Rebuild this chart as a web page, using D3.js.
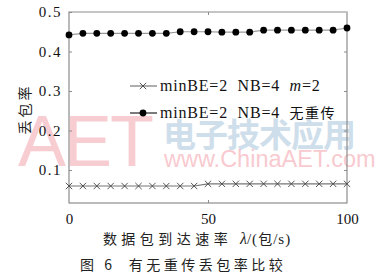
<!DOCTYPE html>
<html><head><meta charset="utf-8">
<script src="https://cdn.jsdelivr.net/npm/d3@7"></script>
<style>body{margin:0;background:#fff}svg{display:block}</style>
</head><body>
<script>
const xs = [0,5,10,15,20,25,30,35,40,45,50,55,60,65,70,75,80,85,90,95,100];
const seriesM2 = [0.0595,0.0595,0.0595,0.0595,0.0595,0.0595,0.0595,0.0595,0.0595,0.0595,0.065,0.065,0.065,0.065,0.065,0.065,0.065,0.065,0.065,0.065,0.065];
const seriesNoRetx = [0.442,0.446,0.446,0.446,0.446,0.446,0.446,0.446,0.450,0.450,0.450,0.449,0.449,0.449,0.454,0.454,0.454,0.454,0.454,0.454,0.4595];
const yTicks = [0.1,0.2,0.3,0.4,0.5];
const xTicks = [0,50,100];
const legendLabels = ["minBE=2  NB=4  ", "minBE=2  NB=4  无重传"];

const W=378,H=277;
const svg=d3.select("body").append("svg").attr("width",W).attr("height",H);
const x=d3.scaleLinear().domain([0,100]).range([69,347]);
const y=d3.scaleLinear().domain([0.0165,0.5]).range([203,12]);
const axisCol="#8c8c8c";
const serif="'Liberation Serif','Times New Roman',serif";
const cjk="'Noto Sans CJK SC',sans-serif";

// watermark (behind)
const wm=svg.append("g").attr("pointer-events","none");
wm.append("text").attr("x",18).attr("y",166).attr("font-family","'Liberation Sans',Arial,sans-serif").attr("font-size",72)
  .attr("fill","#f08a96").attr("opacity",0.42).attr("letter-spacing",-2).text("AET");
wm.append("text").attr("x",163).attr("y",147).attr("font-family",cjk).attr("font-size",33).attr("font-weight",700)
  .attr("fill","#9fc0d8").attr("opacity",0.5).attr("letter-spacing",-1).text("电子技术应用");
wm.append("text").attr("x",164).attr("y",167).attr("font-family","'Liberation Sans',Arial,sans-serif").attr("font-size",23.5)
  .attr("fill","#f08a96").attr("opacity",0.45).text("www.ChinaAET.com");

// frame
svg.append("rect").attr("x",69).attr("y",12).attr("width",278).attr("height",191)
  .attr("fill","none").attr("stroke",axisCol).attr("stroke-width",1.2);
svg.append("line").attr("x1",69).attr("x2",347).attr("y1",12).attr("y2",12).attr("stroke","#c8c8c8").attr("stroke-width",1.6);

function styleAxis(g){g.select(".domain").remove();g.selectAll(".tick line").attr("stroke",axisCol);}
const ya=svg.append("g").attr("transform","translate(69,0)")
  .call(d3.axisLeft(y).tickValues(yTicks).tickSize(-3).tickPadding(7).tickFormat(d3.format(".1f")));
styleAxis(ya);
ya.selectAll("text").attr("font-family",serif).attr("font-size",15).attr("letter-spacing",1.5).attr("fill","#111");
const yr=svg.append("g").attr("transform","translate(347,0)")
  .call(d3.axisRight(y).tickValues(yTicks.slice(0,4)).tickSize(-3).tickFormat(""));
styleAxis(yr);
const xa=svg.append("g").attr("transform","translate(0,203)")
  .call(d3.axisBottom(x).tickValues(xTicks).tickSize(-3).tickPadding(10));
styleAxis(xa);
xa.selectAll("text").attr("font-family",serif).attr("font-size",15).attr("fill","#111");
xa.selectAll(".tick line").filter(d=>d!==50).remove();
const xt=svg.append("g").attr("transform","translate(0,12)")
  .call(d3.axisTop(x).tickValues([50]).tickSize(-3).tickFormat(""));
styleAxis(xt);

// series
const line=d3.line().x((d,i)=>x(xs[i])).y(d=>y(d));
svg.append("path").datum(seriesM2).attr("d",line).attr("fill","none").attr("stroke","#777").attr("stroke-width",1.2);
svg.append("path").datum(seriesNoRetx).attr("d",line).attr("fill","none").attr("stroke","#999").attr("stroke-width",1.2);
const cross=d3.symbol().type(d3.symbolX).size(28);
svg.append("g").selectAll("path").data(seriesM2).join("path")
  .attr("transform",(d,i)=>`translate(${x(xs[i])},${y(d)})`).attr("d",cross)
  .attr("fill","none").attr("stroke","#444").attr("stroke-width",0.9);
svg.append("g").selectAll("circle").data(seriesNoRetx).join("circle")
  .attr("cx",(d,i)=>x(xs[i])).attr("cy",d=>y(d)).attr("r",3.4).attr("fill","#000");

// legend
const lg=svg.append("g");
lg.append("line").attr("x1",130).attr("x2",157).attr("y1",86).attr("y2",86).attr("stroke","#777").attr("stroke-width",1.2);
lg.append("path").attr("transform","translate(143,86)").attr("d",cross).attr("fill","none").attr("stroke","#444").attr("stroke-width",0.9);
lg.append("line").attr("x1",130).attr("x2",157).attr("y1",113).attr("y2",113).attr("stroke","#222").attr("stroke-width",1.2);
lg.append("circle").attr("cx",143).attr("cy",113).attr("r",3.4).attr("fill","#000");
const t1=lg.append("text").attr("x",160).attr("y",91).attr("font-family",serif).attr("font-size",16).attr("letter-spacing",0.8).attr("fill","#111").attr("xml:space","preserve");
t1.append("tspan").text(legendLabels[0]);
t1.append("tspan").attr("font-style","italic").text("m");
t1.append("tspan").text("=2");
const t2=lg.append("text").attr("x",160).attr("y",118).attr("font-family",serif).attr("font-size",16).attr("letter-spacing",0.8).attr("fill","#111").attr("xml:space","preserve");
t2.append("tspan").text("minBE=2  NB=4  ");
t2.append("tspan").attr("font-family",cjk).attr("font-size",14).attr("letter-spacing",1.5).text("无重传");

// axis labels
svg.append("text").attr("transform","translate(30,109) rotate(-90)").attr("text-anchor","middle")
  .attr("font-family",cjk).attr("font-size",14).attr("letter-spacing",3).attr("fill","#222").text("丢包率");
const xl=svg.append("text").attr("x",197).attr("y",244).attr("text-anchor","middle").attr("font-family",cjk).attr("font-size",14).attr("fill","#222");
xl.append("tspan").attr("letter-spacing",4.5).text("数据包到达速率 ");
xl.append("tspan").attr("font-family",serif).attr("font-style","italic").attr("font-size",16).text("λ");
xl.append("tspan").attr("font-family",serif).attr("font-size",15).attr("letter-spacing",1).text("/(");
xl.append("tspan").attr("letter-spacing",1).text("包");
xl.append("tspan").attr("font-family",serif).attr("font-size",15).attr("letter-spacing",1).text("/s)");
svg.append("text").attr("x",80).attr("y",270).attr("font-family",cjk).attr("font-size",14).attr("letter-spacing",3.5).attr("fill","#222")
  .attr("xml:space","preserve").text("图 6  有无重传丢包率比较");
</script>
</body></html>
